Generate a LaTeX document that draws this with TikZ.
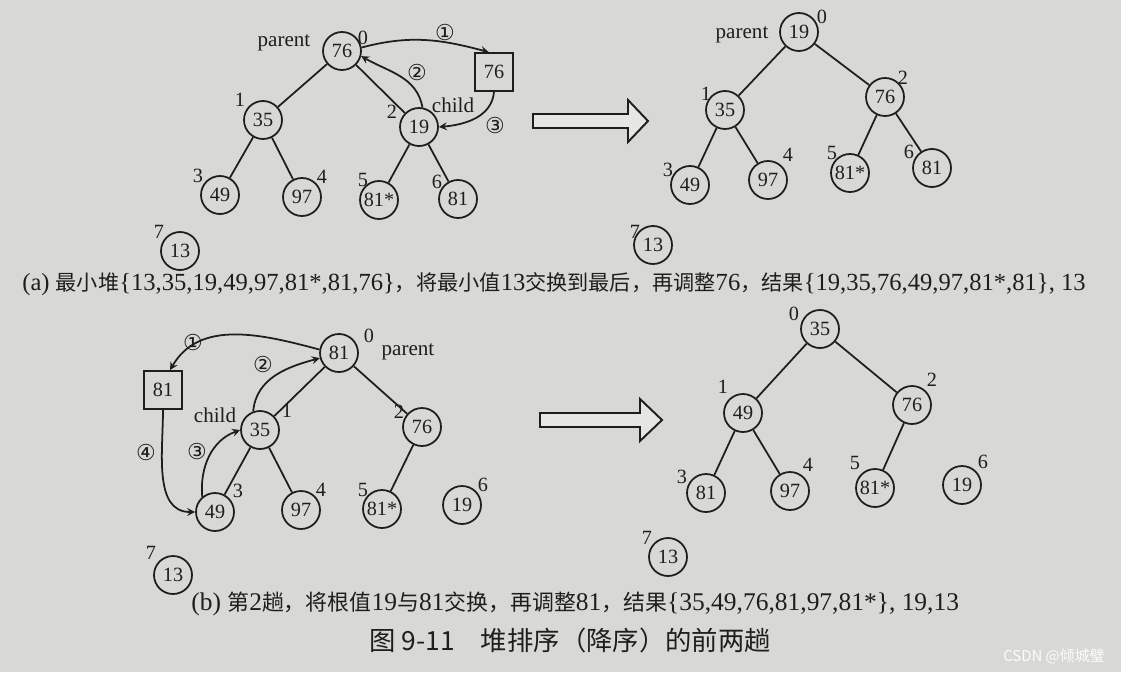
\documentclass[tikz,border=0pt]{standalone}
\usepackage{fontspec}
\setmainfont{Liberation Serif}
\newfontfamily\cjk{Noto Sans CJK SC}[Scale=0.86]
\newfontfamily\titlefont{Noto Sans CJK SC}
\newfontfamily\sym{DejaVu Sans}
\usepackage{tikz}
\usetikzlibrary{shapes,arrows,positioning,calc}
\definecolor{paper}{RGB}{216,216,212}
\definecolor{ink}{RGB}{30,30,30}
\newcommand{\zh}[1]{{\cjk #1}}

\begin{document}
\begin{tikzpicture}[x=0.02cm, y=-0.02cm, every node/.style={align=center, text=ink, font=\fontsize{11.5}{13}\selectfont}]
        % 定义样式
        \tikzstyle{key} = [circle, draw=ink, line width=1pt, minimum size=0.76cm, inner sep=0pt]
        \tikzstyle{tmp} = [rectangle, draw=ink, line width=1pt, minimum size=0.76cm, inner sep=0pt]
        \tikzstyle{idx} = [inner sep=0pt]
        \tikzstyle{word} = [inner sep=0pt, font=\fontsize{12}{14}\selectfont]
        \tikzstyle{tag} = [inner sep=0pt, font=\sym\fontsize{12.5}{14}\selectfont]
        \tikzstyle{caption} = [inner sep=0pt, anchor=west, font=\fontsize{14}{16}\selectfont]
        \tikzstyle{edge} = [draw=ink, line width=1pt]
        \tikzstyle{arrow} = [draw=ink, line width=1pt, ->, >=stealth]
        \tikzstyle{hollow} = [draw=ink, line width=1.1pt, fill=white!35!paper]

        % 背景
        \fill [paper] (0,0) rectangle (1121,672);

        % (a) 左：调整前
        \node (a0) [key] at (342,51) {76};
        \node (a1) [key] at (263,120) {35};
        \node (a2) [key] at (419,127) {19};
        \node (a3) [key] at (220,195) {49};
        \node (a4) [key] at (302,197) {97};
        \node (a5) [key] at (379,200) {81*};
        \node (a6) [key] at (458,199) {81};
        \node (a7) [key] at (180,251) {13};
        \node (abox) [tmp] at (494,72) {76};
        \node (ai0) [idx] at (363,38) {0};
        \node (ai1) [idx] at (240,100) {1};
        \node (ai2) [idx] at (392,112) {2};
        \node (ai3) [idx] at (198,176) {3};
        \node (ai4) [idx] at (322,177) {4};
        \node (ai5) [idx] at (363,180) {5};
        \node (ai6) [idx] at (437,182) {6};
        \node (ai7) [idx] at (159,232) {7};
        \node (apar) [word] at (284,43) {parent};
        \node (achd) [word] at (453,105) {child};
        \node (at1) [tag] at (445,33) {①};
        \node (at2) [tag] at (417,73) {②};
        \node (at3) [tag] at (495,126) {③};

        \draw [edge] (a0) -- (a1);
        \draw [edge] (a0) -- (a2);
        \draw [edge] (a1) -- (a3);
        \draw [edge] (a1) -- (a4);
        \draw [edge] (a2) -- (a5);
        \draw [edge] (a2) -- (a6);
        \draw [arrow] (a0.10) to[out=15, in=165] ([xshift=-3pt]abox.north);
        \draw [arrow] (a2.80) to[out=100, in=-30] (a0.-15);
        \draw [arrow] (abox.south) to[out=-95, in=5] (a2.east);

        % (a) 空心箭头
        \coordinate (ha) at (533,121);
        \draw [hollow] (533,114) -- (628,114) -- (628,100) -- (648,121) -- (628,142) -- (628,128) -- (ha |- 0,128) -- cycle;

        % (a) 右：调整后
        \node (b0) [key] at (799,32) {19};
        \node (b1) [key] at (725,110) {35};
        \node (b2) [key] at (885,97) {76};
        \node (b3) [key] at (690,185) {49};
        \node (b4) [key] at (768,180) {97};
        \node (b5) [key] at (850,173) {81*};
        \node (b6) [key] at (932,168) {81};
        \node (b7) [key] at (653,245) {13};
        \node (bi0) [idx] at (822,17) {0};
        \node (bi1) [idx] at (706,94) {1};
        \node (bi2) [idx] at (903,78) {2};
        \node (bi3) [idx] at (668,170) {3};
        \node (bi4) [idx] at (788,155) {4};
        \node (bi5) [idx] at (832,153) {5};
        \node (bi6) [idx] at (909,152) {6};
        \node (bi7) [idx] at (635,232) {7};
        \node (bpar) [word] at (742,35) {parent};

        \draw [edge] (b0) -- (b1);
        \draw [edge] (b0) -- (b2);
        \draw [edge] (b1) -- (b3);
        \draw [edge] (b1) -- (b4);
        \draw [edge] (b2) -- (b5);
        \draw [edge] (b2) -- (b6);

        \node (capa) [caption] at (22,284) {(a) \zh{最小堆}\{13,35,19,49,97,81*,81,76\}\zh{，将最小值}13\zh{交换到最后，再调整}76\zh{，结果}\{19,35,76,49,97,81*,81\}, 13};

        % (b) 左：第2趟
        \node (c0) [key] at (339,353) {81};
        \node (c1) [key] at (260,430) {35};
        \node (c2) [key] at (422,427) {76};
        \node (c3) [key] at (215,512) {49};
        \node (c4) [key] at (301,510) {97};
        \node (c5) [key] at (382,509) {81*};
        \node (c6) [key] at (462,505) {19};
        \node (c7) [key] at (173,575) {13};
        \node (cbox) [tmp] at (163,390) {81};
        \node (ci0) [idx] at (369,336) {0};
        \node (ci1) [idx] at (287,411) {1};
        \node (ci2) [idx] at (399,412) {2};
        \node (ci3) [idx] at (238,491) {3};
        \node (ci4) [idx] at (321,490) {4};
        \node (ci5) [idx] at (363,490) {5};
        \node (ci6) [idx] at (483,485) {6};
        \node (ci7) [idx] at (151,553) {7};
        \node (cpar) [word] at (408,352) {parent};
        \node (cchd) [word] at (215,415) {child};
        \node (ct1) [tag] at (193,342) {①};
        \node (ct2) [tag] at (263,364) {②};
        \node (ct3) [tag] at (197,451) {③};
        \node (ct4) [tag] at (146,452) {④};

        \draw [edge] (c0) -- (c1);
        \draw [edge] (c0) -- (c2);
        \draw [edge] (c1) -- (c3);
        \draw [edge] (c1) -- (c4);
        \draw [edge] (c2) -- (c5);
        \draw [arrow] (c0.170) to[out=165, in=60] ([xshift=4pt]cbox.north);
        \draw [arrow] (c1.110) to[out=85, in=195] (c0.195);
        \draw [arrow] (c3.130) to[out=95, in=200] (c1.west);
        \draw [arrow] (cbox.south) to[out=-90, in=180] (c3.west);

        % (b) 空心箭头
        \coordinate (hb) at (540,420);
        \draw [hollow] (540,413) -- (640,413) -- (640,399) -- (662,420) -- (640,441) -- (640,427) -- (hb |- 0,427) -- cycle;

        % (b) 右：调整后
        \node (d0) [key] at (820,329) {35};
        \node (d1) [key] at (743,413) {49};
        \node (d2) [key] at (912,405) {76};
        \node (d3) [key] at (706,493) {81};
        \node (d4) [key] at (790,491) {97};
        \node (d5) [key] at (875,488) {81*};
        \node (d6) [key] at (962,485) {19};
        \node (d7) [key] at (668,557) {13};
        \node (di0) [idx] at (794,314) {0};
        \node (di1) [idx] at (723,387) {1};
        \node (di2) [idx] at (932,380) {2};
        \node (di3) [idx] at (682,477) {3};
        \node (di4) [idx] at (808,465) {4};
        \node (di5) [idx] at (855,463) {5};
        \node (di6) [idx] at (983,462) {6};
        \node (di7) [idx] at (647,538) {7};

        \draw [edge] (d0) -- (d1);
        \draw [edge] (d0) -- (d2);
        \draw [edge] (d1) -- (d3);
        \draw [edge] (d1) -- (d4);
        \draw [edge] (d2) -- (d5);

        \node (capb) [caption, font=\fontsize{14.5}{16}\selectfont] at (191,604) {(b) \zh{第}2\zh{趟，将根值}19\zh{与}81\zh{交换，再调整}81\zh{，结果}\{35,49,76,81,97,81*\}, 19,13};
        \node (title) [idx, anchor=west, font=\titlefont\fontsize{15}{17}\selectfont] at (369,640) {图 9-11\quad 堆排序（降序）的前两趟};
        \node (mark) [idx, anchor=east, text=white!92!paper, font=\titlefont\fontsize{8.5}{10}\selectfont] at (1105,656) {CSDN @倾城璧};
    \end{tikzpicture}
\end{document}
